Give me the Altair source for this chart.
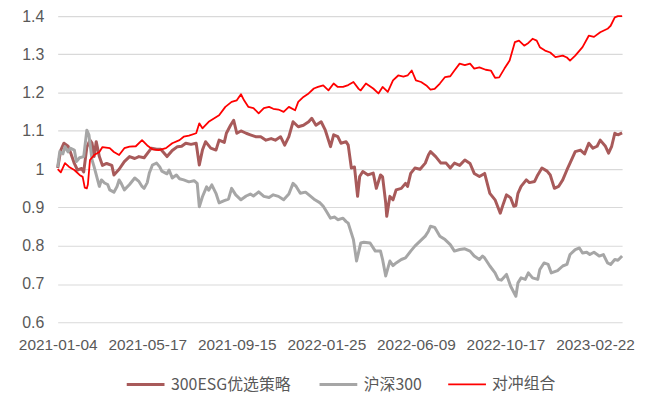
import altair as alt
import pandas as pd

series_names = ["300ESG优选策略", "沪深300", "对冲组合"]
series_colors = ["#A85A5A", "#A6A6A6", "#FF0000"]
series_widths = [3, 3, 1.8]

tick_days = [0, 86, 172, 258, 344, 430, 516]
tick_labels = ["2021-01-04", "2021-05-17", "2021-09-15", "2022-01-25",
               "2022-06-09", "2022-10-17", "2023-02-22"]
y_ticks = [0.6, 0.7, 0.8, 0.9, 1.0, 1.1, 1.2, 1.3, 1.4]

# trading-day index of each reading
esg_days = [0, 3, 6, 10, 12, 16, 19, 23, 25, 28, 31, 33, 35, 37, 40, 43, 47, 52, 54, 59,
            64, 69, 74, 78, 83, 88, 90, 95, 99, 105, 110, 115, 119, 123, 128, 133, 136, 139, 142, 147,
            152, 155, 160, 162, 166, 169, 172, 176, 181, 185, 190, 195, 200, 205, 209, 214, 218, 222, 226, 231,
            236, 241, 244, 248, 253, 257, 262, 265, 269, 272, 277, 279, 282, 285, 288, 290, 293, 298, 303, 306,
            310, 312, 315, 316, 319, 322, 325, 330, 334, 336, 339, 343, 348, 353, 356, 358, 363, 368, 373, 377,
            381, 386, 391, 396, 400, 405, 410, 415, 420, 425, 428, 431, 435, 438, 440, 442, 445, 450, 453, 458,
            461, 465, 470, 473, 477, 481, 485, 489, 492, 497, 502, 506, 510, 514, 518, 521, 526, 529, 532, 535,
            538, 542]
esg_vals = [1.003, 1.050, 1.068, 1.060, 1.046, 1.015, 0.998, 1.002, 0.993, 1.058, 1.076, 1.068, 1.033, 1.072, 1.033, 1.010, 1.015, 1.010, 0.985, 1.000,
            1.020, 1.033, 1.028, 1.033, 1.030, 1.048, 1.055, 1.052, 1.052, 1.033, 1.049, 1.059, 1.060, 1.068, 1.065, 1.068, 1.011, 1.050, 1.072, 1.055,
            1.050, 1.076, 1.070, 1.094, 1.115, 1.128, 1.094, 1.100, 1.094, 1.090, 1.085, 1.085, 1.076, 1.080, 1.076, 1.085, 1.063, 1.085, 1.124, 1.111,
            1.115, 1.124, 1.133, 1.115, 1.124, 1.102, 1.059, 1.090, 1.085, 1.068, 1.072, 1.063, 1.003, 1.006, 0.929, 0.981, 0.994, 0.985, 0.990, 0.950,
            0.985, 0.980, 0.912, 0.877, 0.929, 0.920, 0.946, 0.950, 0.963, 0.955, 0.989, 1.003, 1.000, 1.016, 1.037, 1.046, 1.033, 1.016, 1.016, 1.003,
            1.016, 1.010, 1.024, 1.015, 0.989, 0.981, 0.989, 0.937, 0.920, 0.885, 0.910, 0.933, 0.925, 0.903, 0.905, 0.937, 0.955, 0.972, 0.965, 0.968,
            0.985, 1.003, 0.995, 0.985, 0.950, 0.955, 0.972, 0.998, 1.016, 1.046, 1.050, 1.040, 1.068, 1.055, 1.060, 1.076, 1.060, 1.042, 1.060, 1.094,
            1.090, 1.095]

hs_days = [0, 2, 5, 7, 10, 12, 16, 18, 21, 25, 28, 30, 33, 35, 40, 42, 45, 48, 50, 54,
           57, 59, 61, 64, 69, 74, 78, 81, 83, 86, 88, 91, 95, 98, 100, 105, 107, 110, 114, 117,
           121, 126, 131, 134, 136, 139, 143, 145, 148, 152, 155, 160, 164, 167, 171, 176, 181, 185, 188, 193,
           198, 203, 207, 212, 217, 222, 226, 229, 233, 238, 243, 247, 252, 255, 258, 262, 266, 269, 274, 277,
           279, 284, 287, 291, 294, 300, 305, 310, 312, 315, 319, 322, 325, 330, 334, 339, 343, 348, 353, 356,
           358, 362, 367, 372, 377, 381, 386, 391, 396, 400, 405, 408, 410, 415, 420, 423, 426, 431, 435, 440,
           442, 445, 449, 452, 456, 461, 463, 467, 471, 474, 480, 485, 489, 492, 497, 501, 504, 508, 511, 515,
           520, 524, 528, 531, 535, 538, 542]
hs_vals = [1.005, 1.046, 1.040, 1.059, 1.045, 1.055, 1.050, 1.020, 1.030, 1.033, 1.102, 1.090, 1.024, 1.006, 0.955, 0.972, 0.964, 0.960, 0.946, 0.940,
           0.955, 0.972, 0.963, 0.946, 0.960, 0.977, 0.968, 0.955, 0.950, 0.965, 0.990, 1.011, 1.016, 1.006, 0.995, 0.988, 0.998, 0.977, 0.985, 0.975,
           0.972, 0.967, 0.970, 0.963, 0.902, 0.928, 0.954, 0.945, 0.959, 0.937, 0.912, 0.918, 0.922, 0.950, 0.933, 0.920, 0.930, 0.935, 0.930, 0.941,
           0.929, 0.926, 0.933, 0.929, 0.920, 0.935, 0.963, 0.955, 0.937, 0.940, 0.929, 0.920, 0.912, 0.903, 0.890, 0.872, 0.875, 0.868, 0.872, 0.863,
           0.859, 0.816, 0.760, 0.807, 0.809, 0.807, 0.786, 0.786, 0.764, 0.721, 0.760, 0.748, 0.755, 0.764, 0.768, 0.786, 0.799, 0.812, 0.825, 0.838,
           0.851, 0.848, 0.825, 0.816, 0.803, 0.786, 0.790, 0.792, 0.786, 0.773, 0.764, 0.773, 0.768, 0.747, 0.729, 0.712, 0.710, 0.725, 0.694, 0.668,
           0.703, 0.716, 0.712, 0.729, 0.716, 0.712, 0.738, 0.755, 0.751, 0.729, 0.735, 0.747, 0.751, 0.777, 0.790, 0.794, 0.781, 0.783, 0.777, 0.783,
           0.773, 0.777, 0.755, 0.751, 0.764, 0.762, 0.773]

hedge_days = [0, 3, 7, 11, 16, 21, 24, 26, 28, 29, 31, 35, 40, 43, 50, 54, 59, 64, 69, 75,
              81, 86, 91, 97, 104, 110, 117, 121, 126, 133, 136, 139, 145, 155, 161, 167, 172, 176, 179, 183,
              188, 193, 198, 203, 207, 212, 217, 222, 228, 231, 236, 241, 246, 250, 255, 260, 265, 269, 274, 279,
              284, 289, 291, 296, 303, 308, 312, 317, 322, 327, 332, 336, 340, 344, 349, 354, 358, 362, 367, 372,
              377, 381, 386, 391, 396, 400, 405, 411, 416, 420, 424, 429, 434, 439, 443, 448, 452, 456, 460, 463,
              468, 473, 478, 485, 489, 492, 497, 504, 510, 515, 521, 528, 531, 535, 538, 542]
hedge_vals = [1.000, 0.992, 1.016, 1.006, 0.998, 0.985, 0.980, 0.952, 0.950, 0.960, 1.024, 1.037, 1.045, 1.058, 1.055, 1.045, 1.037, 1.055, 1.059, 1.060,
              1.076, 1.062, 1.052, 1.050, 1.055, 1.068, 1.076, 1.085, 1.088, 1.094, 1.120, 1.107, 1.124, 1.141, 1.163, 1.176, 1.180, 1.196, 1.180, 1.163,
              1.160, 1.146, 1.160, 1.163, 1.158, 1.156, 1.150, 1.163, 1.154, 1.176, 1.189, 1.198, 1.211, 1.215, 1.219, 1.206, 1.224, 1.215, 1.215, 1.220,
              1.228, 1.210, 1.206, 1.224, 1.211, 1.198, 1.215, 1.202, 1.232, 1.245, 1.242, 1.245, 1.258, 1.232, 1.228, 1.219, 1.208, 1.210, 1.224, 1.241,
              1.243, 1.258, 1.276, 1.272, 1.276, 1.263, 1.266, 1.260, 1.258, 1.239, 1.240, 1.263, 1.284, 1.332, 1.336, 1.323, 1.330, 1.341, 1.336, 1.319,
              1.310, 1.305, 1.293, 1.297, 1.292, 1.284, 1.297, 1.319, 1.349, 1.346, 1.358, 1.367, 1.375, 1.397, 1.400, 1.400]

rows = []
for name, days, vals in zip(series_names, [esg_days, hs_days, hedge_days], [esg_vals, hs_vals, hedge_vals]):
    for d, v in zip(days, vals):
        rows.append({"day": d, "value": v, "series": name})
df = pd.DataFrame(rows)

label_expr = " : ".join(f"datum.value == {d} ? '{l}'" for d, l in zip(tick_days, tick_labels)) + " : ''"

chart = alt.Chart(df).mark_line(strokeJoin="round").encode(
    x=alt.X("day:Q",
            scale=alt.Scale(domain=[0, 542], nice=False, zero=False),
            axis=alt.Axis(values=tick_days, labelExpr=label_expr, title=None, grid=False,
                          domain=False, ticks=False, labelPadding=15, labelFlush=False,
                          labelOverlap=False, labelFontSize=15.5, labelColor="#595959",
                          labelFont="Liberation Sans")),
    y=alt.Y("value:Q",
            scale=alt.Scale(domain=[0.6, 1.4], nice=False, zero=False),
            axis=alt.Axis(values=y_ticks, format="~g", title=None, domain=False, ticks=False,
                          labelPadding=14, labelFontSize=16, labelColor="#595959",
                          labelFont="Liberation Sans", gridColor="#D9D9D9", gridWidth=1.2)),
    color=alt.Color("series:N",
                    scale=alt.Scale(domain=series_names, range=series_colors),
                    legend=alt.Legend(title=None, orient="none", legendX=68, legendY=350,
                                      direction="horizontal", symbolType="stroke",
                                      symbolSize=1444, symbolStrokeWidth=2.6, columnPadding=22,
                                      labelOffset=5, labelFontSize=16, labelColor="#595959",
                                      labelFont="Noto Sans CJK SC", padding=0)),
    strokeWidth=alt.StrokeWidth("series:N",
                                scale=alt.Scale(type="ordinal", domain=series_names, range=series_widths),
                                legend=None),
    order=alt.Order("day:Q"),
).properties(
    width=568, height=308,
    autosize=alt.AutoSizeParams(type="none"),
    padding={"left": 50, "top": 7, "right": 15, "bottom": 75},
).configure_view(stroke=None)

chart.save("out.html", embed_options={"renderer": "svg", "actions": False})
